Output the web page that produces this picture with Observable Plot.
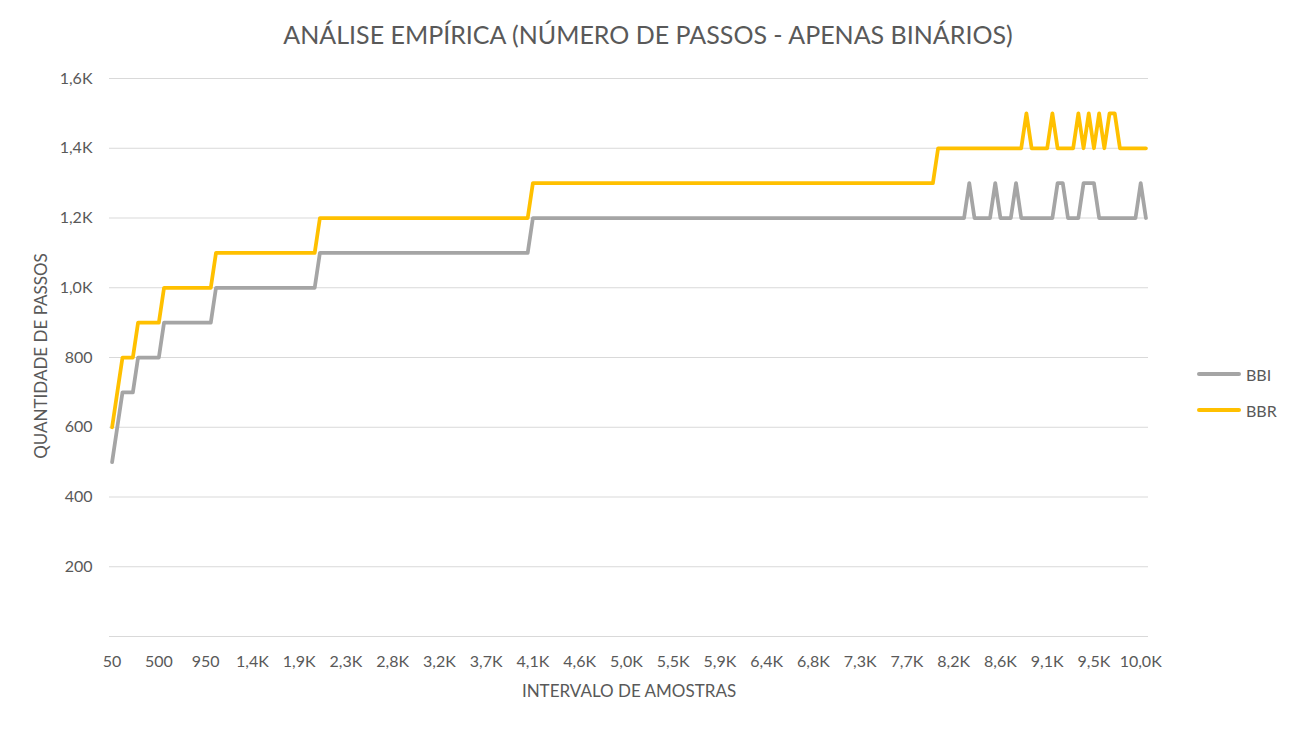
<!DOCTYPE html>
<html>
<head>
<meta charset="utf-8">
<script src="https://cdn.jsdelivr.net/npm/d3@7"></script>
<script src="https://cdn.jsdelivr.net/npm/@observablehq/plot@0.6"></script>
<style>
  html, body { margin: 0; padding: 0; background: #fff; }
  #wrap { position: relative; width: 1296px; height: 729px; overflow: hidden; font-family: Lato, "Open Sans", sans-serif; color: #595959; }
  #title { position: absolute; left: 0; top: 19px; width: 1296px; text-align: center; font-size: 25px; white-space: nowrap; }
  #ytitle { position: absolute; left: 40px; top: 356px; transform: translate(-50%, -50%) rotate(-90deg); font-size: 17px; white-space: nowrap; }
  #xtitle { position: absolute; left: 629px; top: 690px; transform: translate(-50%, -50%); font-size: 17px; white-space: nowrap; }
  .leg { position: absolute; left: 1197px; font-size: 16px; display: flex; align-items: center; }
  .leg span.sw { display: inline-block; width: 44px; height: 4px; border-radius: 2px; margin-right: 5px; }
  #chart { position: absolute; left: 0; top: 0; }
</style>
</head>
<body>
<div id="wrap">
  <div id="chart"></div>
  <div id="title"></div>
  <div id="ytitle"></div>
  <div id="xtitle"></div>
  <div id="legend"></div>
</div>
<script>
const chartTitle = "ANÁLISE EMPÍRICA (NÚMERO DE PASSOS - APENAS BINÁRIOS)";
const yTitle = "QUANTIDADE DE PASSOS";
const xTitle = "INTERVALO DE AMOSTRAS";
const seriesNames = ["BBI", "BBR"];
const seriesColors = ["#A5A5A5", "#FFC000"];

const samples = [
  50,100,150,200,250,300,350,400,450,500,
  550,600,650,700,750,800,850,900,950,1000,
  1050,1100,1150,1200,1250,1300,1350,1400,1450,1500,
  1550,1600,1650,1700,1750,1800,1850,1900,1950,2000,
  2050,2100,2150,2200,2250,2300,2350,2400,2450,2500,
  2550,2600,2650,2700,2750,2800,2850,2900,2950,3000,
  3050,3100,3150,3200,3250,3300,3350,3400,3450,3500,
  3550,3600,3650,3700,3750,3800,3850,3900,3950,4000,
  4050,4100,4150,4200,4250,4300,4350,4400,4450,4500,
  4550,4600,4650,4700,4750,4800,4850,4900,4950,5000,
  5050,5100,5150,5200,5250,5300,5350,5400,5450,5500,
  5550,5600,5650,5700,5750,5800,5850,5900,5950,6000,
  6050,6100,6150,6200,6250,6300,6350,6400,6450,6500,
  6550,6600,6650,6700,6750,6800,6850,6900,6950,7000,
  7050,7100,7150,7200,7250,7300,7350,7400,7450,7500,
  7550,7600,7650,7700,7750,7800,7850,7900,7950,8000,
  8050,8100,8150,8200,8250,8300,8350,8400,8450,8500,
  8550,8600,8650,8700,8750,8800,8850,8900,8950,9000,
  9050,9100,9150,9200,9250,9300,9350,9400,9450,9500,
  9550,9600,9650,9700,9750,9800,9850,9900,9950,10000
];

const bbi = [
  500,600,700,700,700,800,800,800,800,800,
  900,900,900,900,900,900,900,900,900,900,
  1000,1000,1000,1000,1000,1000,1000,1000,1000,1000,
  1000,1000,1000,1000,1000,1000,1000,1000,1000,1000,
  1100,1100,1100,1100,1100,1100,1100,1100,1100,1100,
  1100,1100,1100,1100,1100,1100,1100,1100,1100,1100,
  1100,1100,1100,1100,1100,1100,1100,1100,1100,1100,
  1100,1100,1100,1100,1100,1100,1100,1100,1100,1100,
  1100,1200,1200,1200,1200,1200,1200,1200,1200,1200,
  1200,1200,1200,1200,1200,1200,1200,1200,1200,1200,
  1200,1200,1200,1200,1200,1200,1200,1200,1200,1200,
  1200,1200,1200,1200,1200,1200,1200,1200,1200,1200,
  1200,1200,1200,1200,1200,1200,1200,1200,1200,1200,
  1200,1200,1200,1200,1200,1200,1200,1200,1200,1200,
  1200,1200,1200,1200,1200,1200,1200,1200,1200,1200,
  1200,1200,1200,1200,1200,1200,1200,1200,1200,1200,
  1200,1200,1200,1200,1200,1300,1200,1200,1200,1200,
  1300,1200,1200,1200,1300,1200,1200,1200,1200,1200,
  1200,1200,1300,1300,1200,1200,1200,1300,1300,1300,
  1200,1200,1200,1200,1200,1200,1200,1200,1300,1200
];

const bbr = [
  600,700,800,800,800,900,900,900,900,900,
  1000,1000,1000,1000,1000,1000,1000,1000,1000,1000,
  1100,1100,1100,1100,1100,1100,1100,1100,1100,1100,
  1100,1100,1100,1100,1100,1100,1100,1100,1100,1100,
  1200,1200,1200,1200,1200,1200,1200,1200,1200,1200,
  1200,1200,1200,1200,1200,1200,1200,1200,1200,1200,
  1200,1200,1200,1200,1200,1200,1200,1200,1200,1200,
  1200,1200,1200,1200,1200,1200,1200,1200,1200,1200,
  1200,1300,1300,1300,1300,1300,1300,1300,1300,1300,
  1300,1300,1300,1300,1300,1300,1300,1300,1300,1300,
  1300,1300,1300,1300,1300,1300,1300,1300,1300,1300,
  1300,1300,1300,1300,1300,1300,1300,1300,1300,1300,
  1300,1300,1300,1300,1300,1300,1300,1300,1300,1300,
  1300,1300,1300,1300,1300,1300,1300,1300,1300,1300,
  1300,1300,1300,1300,1300,1300,1300,1300,1300,1300,
  1300,1300,1300,1300,1300,1300,1300,1300,1300,1400,
  1400,1400,1400,1400,1400,1400,1400,1400,1400,1400,
  1400,1400,1400,1400,1400,1400,1500,1400,1400,1400,
  1400,1500,1400,1400,1400,1400,1500,1400,1500,1400,
  1500,1400,1500,1500,1400,1400,1400,1400,1400,1400
];

const xTickValues = [50,500,950,1400,1850,2300,2750,3200,3650,4100,4550,5000,5450,5900,6350,6800,7250,7700,8150,8600,9050,9500,9950];
const xTickLabels = ["50","500","950","1,4K","1,9K","2,3K","2,8K","3,2K","3,7K","4,1K","4,6K","5,0K","5,5K","5,9K","6,4K","6,8K","7,3K","7,7K","8,2K","8,6K","9,1K","9,5K","10,0K"];
const yTickValues = [200,400,600,800,1000,1200,1400,1600];
const yTickLabels = ["200","400","600","800","1,0K","1,2K","1,4K","1,6K"];

const rows = [];
samples.forEach((s, i) => {
  rows.push({amostra: s, passos: bbi[i], serie: seriesNames[0]});
  rows.push({amostra: s, passos: bbr[i], serie: seriesNames[1]});
});

const chart = Plot.plot({
  width: 1296,
  height: 729,
  marginTop: 78,
  marginBottom: 93,
  marginLeft: 109,
  marginRight: 148,
  style: {fontFamily: "Lato, 'Open Sans', sans-serif", fontSize: "16px", color: "#595959", background: "transparent"},
  x: {type: "point", domain: samples, padding: 0.5},
  y: {domain: [0, 1600]},
  color: {domain: seriesNames, range: seriesColors},
  marks: [
    Plot.gridY(yTickValues, {stroke: "#D9D9D9", strokeOpacity: 1, strokeWidth: 1}),
    Plot.ruleY([0], {stroke: "#D9D9D9", strokeWidth: 1}),
    Plot.axisY(yTickValues, {tickSize: 0, tickPadding: 17, label: null,
      tickFormat: d => yTickLabels[yTickValues.indexOf(d)]}),
    Plot.axisX(xTickValues, {tickSize: 0, tickPadding: 19, label: null,
      tickFormat: d => xTickLabels[xTickValues.indexOf(d)]}),
    Plot.line(rows, {x: "amostra", y: "passos", z: "serie", stroke: "serie",
      strokeWidth: 3.75, strokeLinejoin: "round", strokeLinecap: "round"})
  ]
});
document.getElementById("chart").appendChild(chart);

document.getElementById("title").textContent = chartTitle;
document.getElementById("ytitle").textContent = yTitle;
document.getElementById("xtitle").textContent = xTitle;

const legend = document.getElementById("legend");
const legendTops = [374, 410];
seriesNames.forEach((name, i) => {
  const d = document.createElement("div");
  d.className = "leg";
  d.style.top = (legendTops[i] - 10) + "px";
  d.style.height = "20px";
  const sw = document.createElement("span");
  sw.className = "sw";
  sw.style.background = seriesColors[i];
  const t = document.createElement("span");
  t.textContent = name;
  d.appendChild(sw);
  d.appendChild(t);
  legend.appendChild(d);
});
</script>
</body>
</html>
